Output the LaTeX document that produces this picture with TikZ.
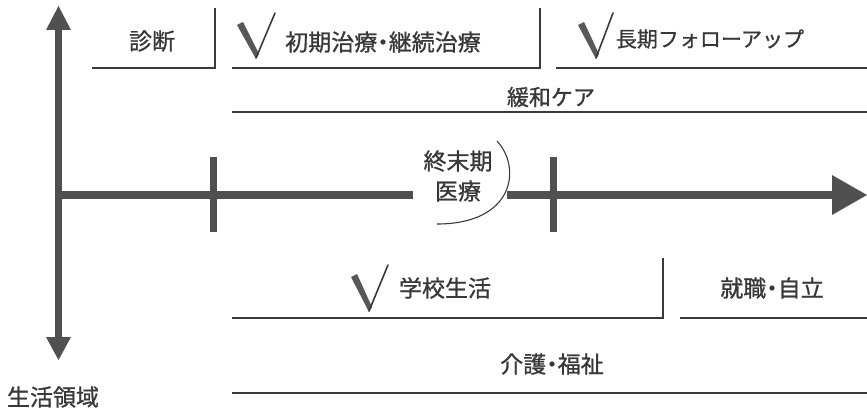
\documentclass[tikz,border=0pt]{standalone}
\usepackage{fontspec}
\setmainfont{Noto Sans CJK JP}[FakeBold=0.9]
\definecolor{axisgray}{HTML}{505050}
\definecolor{linegray}{HTML}{3A3A3A}
\definecolor{textgray}{HTML}{383838}
\newcommand{\ndot}{\kern-0.25em・\kern-0.25em}
\begin{document}
\begin{tikzpicture}[x=1pt,y=-1pt,
  lbl/.style={inner sep=0pt, text=textgray, font=\fontsize{23}{30}\selectfont},
  rule/.style={draw=linegray, line width=1.4pt},
  shaft/.style={draw=axisgray, line width=7.5pt},
  tick/.style={draw=axisgray, line width=7pt},
  headfill/.style={fill=axisgray},
  checkmk/.style={draw=linegray, line width=1.6pt, line join=round, line cap=round},
  checkfill/.style={fill=linegray!85}]
\useasboundingbox (0,0) rectangle (867,409);

% axes coordinates
\coordinate (vtop) at (58.5,28);
\coordinate (vbot) at (58.5,339);
\coordinate (hleft) at (55,195);
\coordinate (hgapL) at (413,195);
\coordinate (hgapR) at (507,195);
\coordinate (hend) at (833,195);

% vertical axis
\draw[shaft] (vtop) -- (vbot);
\fill[headfill] (46,30) -- (71,30) -- (58.5,6) -- cycle;
\fill[headfill] (46,337) -- (71,337) -- (58.5,360) -- cycle;

% horizontal axis
\draw[shaft] (hleft) -- (hgapL);
\draw[shaft] (hgapR) -- (hend);
\fill[headfill] (832,175) -- (867,195) -- (832,215) -- cycle;

% ticks
\draw[tick] (213.5,157) -- (213.5,232);
\draw[tick] (553.5,157) -- (553.5,232);

% top band
\node[lbl] (diag) at (152,41) {診断};
\draw[rule] (92,68) -- (215,68) -- (215,8);
\node[lbl] (treat) at (383,42) {初期治療\ndot 継続治療};
\draw[rule] (232,68) -- (540,68) -- (540,8);
\node[lbl, font=\fontsize{21}{26}\selectfont] (follow) at (710,39) {長期フォローアップ};
\draw[rule] (556,68) -- (867,68);
\node[lbl, font=\fontsize{22}{26}\selectfont] (palliative) at (551,97) {緩和ケア};
\draw[rule] (232,112) -- (867,112);

% checkmarks
\fill[checkfill] (237,25) -- (243,22) -- (259,54) -- (256,59) -- cycle;
\draw[checkmk] (256,58) -- (275,13);
\fill[checkfill] (578,25) -- (584,22) -- (599,54) -- (596,59) -- cycle;
\draw[checkmk] (596,58) -- (613,13);
\fill[checkfill] (351,277) -- (357,274) -- (372,307) -- (369,312) -- cycle;
\draw[checkmk] (369,311) -- (388,265);

% terminal care
\node[lbl, align=center] (terminal) at (458,176) {終末期\\医療};
\draw[draw=linegray, line width=1.1pt] (497,141) .. controls (522,168) and (514,224) .. (437,224);

% bottom band
\node[lbl] (school) at (445,288) {学校生活};
\draw[rule] (232,318) -- (663,318) -- (663,258);
\node[lbl] (work) at (772,288) {就職\ndot 自立};
\draw[rule] (680,318) -- (867,318);
\node[lbl] (welfare) at (552,364) {介護\ndot 福祉};
\draw[rule] (232,393) -- (867,393);

\node[lbl] (life) at (53,397) {生活領域};
\end{tikzpicture}
\end{document}
